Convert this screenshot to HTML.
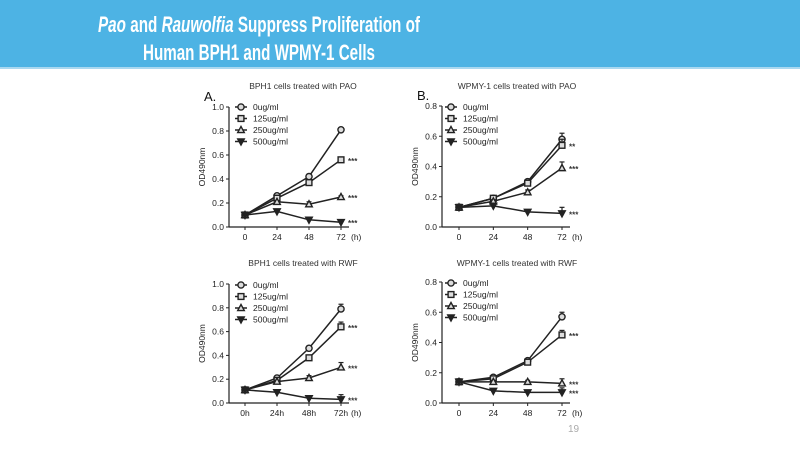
<!DOCTYPE html>
<html><head><meta charset="utf-8"><style>
body{margin:0;width:800px;height:450px;background:#fff;overflow:hidden;font-family:"Liberation Sans",sans-serif}
svg{display:block}
</style></head><body>
<svg id="s" width="800" height="450" xmlns="http://www.w3.org/2000/svg">
<rect x="0" y="0" width="800" height="67" fill="#4db3e4"/>
<rect x="0" y="67" width="800" height="2" fill="#a9d8f0"/>
<text x="259" y="32" text-anchor="middle" fill="#fff" font-size="22" font-weight="bold" textLength="322" lengthAdjust="spacingAndGlyphs"><tspan font-style="italic">Pao</tspan> and <tspan font-style="italic">Rauwolfia</tspan> Suppress Proliferation of</text>
<text x="259" y="60" text-anchor="middle" fill="#fff" font-size="22" font-weight="bold" textLength="232" lengthAdjust="spacingAndGlyphs">Human BPH1 and WPMY-1 Cells</text>
<text x="568" y="432" fill="#aaa" font-size="10">19</text>
</svg>
<script>
const series = ["0ug/ml","125ug/ml","250ug/ml","500ug/ml"];
const xLabelsA = ["0","24","48","72"];
const xLabelsC = ["0h","24h","48h","72h"];
const aVals0=[0.10,0.26,0.42,0.81], aVals125=[0.10,0.24,0.37,0.56], aVals250=[0.10,0.21,0.19,0.25], aVals500=[0.10,0.13,0.06,0.04];
const bVals0=[0.13,0.19,0.30,0.58], bVals125=[0.13,0.19,0.29,0.54], bVals250=[0.13,0.17,0.23,0.39], bVals500=[0.13,0.14,0.10,0.09];
const cVals0=[0.11,0.21,0.46,0.79], cVals125=[0.11,0.19,0.38,0.64], cVals250=[0.11,0.18,0.21,0.30], cVals500=[0.11,0.09,0.04,0.03];
const dVals0=[0.14,0.17,0.28,0.57], dVals125=[0.14,0.16,0.27,0.45], dVals250=[0.14,0.14,0.14,0.13], dVals500=[0.14,0.08,0.07,0.07];
const aErr=[0.005,0.01,0.02,0.01], bErr=[0.01,0.01,0.015,0.04], cErr=[0.01,0.01,0.02,0.04], dErr=[0.01,0.01,0.01,0.03];
const yTicksA=[0,0.2,0.4,0.6,0.8,1.0], yTicksB=[0,0.2,0.4,0.6,0.8];
const starsA=["","***","***","***"], starsB=["","**","***","***"], starsC=["","***","***","***"], starsD=["","***","***","***"];

const NS="http://www.w3.org/2000/svg", S=document.getElementById('s');
function mk(tag,attrs,parent){const e=document.createElementNS(NS,tag);for(const k in attrs)e.setAttribute(k,attrs[k]);(parent||S).appendChild(e);return e;}

function panel(o){
  const g=mk('g',{});
  
  
  const xs=i=>o.x0+(o.x3-o.x0)*i/3;
  const ys=v=>o.yb-(o.yb-o.yt)*v/o.ymax;
  const t=mk('text',{x:o.tx,y:o.ty,'text-anchor':'middle','font-size':8.5,fill:'#333'},g);t.textContent=o.title;
  
  if(o.letter){const l=mk('text',{x:o.lx,y:o.ly,'font-size':13,fill:'#111'},g);l.textContent=o.letter;
    }
  const ya=mk('line',{x1:o.ax,y1:o.yt,x2:o.ax,y2:o.yb,stroke:'#222','stroke-width':1.2},g);
  
  const xa=mk('line',{x1:o.ax,y1:o.yb,x2:o.x3+8,y2:o.yb,stroke:'#222','stroke-width':1.2},g);
  
  o.yticks.forEach(v=>{const y=ys(v);mk('line',{x1:o.ax-3,y1:y,x2:o.ax,y2:y,stroke:'#222'},g);
    const tl=mk('text',{x:o.ax-5,y:y+3,'text-anchor':'end','font-size':8.5,fill:'#222'},g);tl.textContent=v.toFixed(1);
    });
  o.xlabels.forEach((lb,i)=>{const x=xs(i);mk('line',{x1:x,y1:o.yb,x2:x,y2:o.yb+3,stroke:'#222'},g);
    const tl=mk('text',{x:x,y:o.yb+13,'text-anchor':'middle','font-size':8.5,fill:'#222'},g);tl.textContent=lb;
    });
  const h=mk('text',{x:o.x3+10,y:o.yb+13,'font-size':8.5,fill:'#222'},g);h.textContent='(h)';
  
  const yl=mk('text',{x:0,y:0,'text-anchor':'middle','font-size':8.5,fill:'#222',transform:`translate(${o.ax-24},${(o.yt+o.yb)/2}) rotate(-90)`},g);yl.textContent='OD490nm';
  
  o.vals.forEach((arr,si)=>{
    const pts=arr.map((v,i)=>xs(i)+','+ys(v)).join(' ');
    const pl=mk('polyline',{points:pts,fill:'none',stroke:'#222','stroke-width':1.5},g);
    
    arr.forEach((v,i)=>{const x=xs(i),y=ys(v);
      const e=o.err[i], y1=ys(v+e);
      mk('line',{x1:x,y1:y1,x2:x,y2:y,stroke:'#222','stroke-width':1.2},g);mk('line',{x1:x-2.5,y1:y1,x2:x+2.5,y2:y1,stroke:'#222','stroke-width':1.2},g);
      marker(g,si,x,y);
    });
    if(o.stars[si]){const st=mk('text',{x:xs(3)+7,y:ys(arr[3])+4,'font-size':8,'font-weight':'bold',fill:'#333'},g);st.textContent=o.stars[si];
      }
  });
  series.forEach((s,si)=>{const y=o.legY+si*11.5;
    mk('line',{x1:o.legX,y1:y,x2:o.legX+12,y2:y,stroke:'#222','stroke-width':1.5},g);marker(g,si,o.legX+6,y);
    const tx=mk('text',{x:o.legX+18,y:y+3,'font-size':8.5,fill:'#222'},g);tx.textContent=s;
    });
}
function marker(g,si,x,y){
  const a={fill:si==3?'#222':'#ddd',stroke:'#222','stroke-width':1.4};
  if(si==0)mk('circle',Object.assign({cx:x,cy:y,r:3.1},a),g);
  else if(si==1)mk('rect',Object.assign({x:x-2.9,y:y-2.9,width:5.8,height:5.8},a),g);
  else if(si==2)mk('polygon',Object.assign({points:`${x},${y-3.5} ${x-3.3},${y+2.6} ${x+3.3},${y+2.6}`},a),g);
  else mk('polygon',Object.assign({points:`${x},${y+3.5} ${x-3.3},${y-2.6} ${x+3.3},${y-2.6}`},a),g);
}
panel({name:'chart-bph1-pao',title:'BPH1 cells treated with PAO',tx:303,ty:89,letter:'A.',lx:204,ly:101,ax:229,yt:107,yb:227,ymax:1.0,yticks:yTicksA,x0:245,x3:341,xlabels:xLabelsA,vals:[aVals0,aVals125,aVals250,aVals500],err:aErr,stars:starsA,legX:235,legY:107});
panel({name:'chart-wpmy1-pao',title:'WPMY-1 cells treated with PAO',tx:517,ty:89,letter:'B.',lx:417,ly:100,ax:442,yt:106,yb:227,ymax:0.8,yticks:yTicksB,x0:459,x3:562,xlabels:xLabelsA,vals:[bVals0,bVals125,bVals250,bVals500],err:bErr,stars:starsB,legX:445,legY:107});
panel({name:'chart-bph1-rwf',title:'BPH1 cells treated with RWF',tx:303,ty:266,ax:229,yt:284,yb:403,ymax:1.0,yticks:yTicksA,x0:245,x3:341,xlabels:xLabelsC,vals:[cVals0,cVals125,cVals250,cVals500],err:cErr,stars:starsC,legX:235,legY:285});
panel({name:'chart-wpmy1-rwf',title:'WPMY-1 cells treated with RWF',tx:517,ty:266,ax:442,yt:282,yb:403,ymax:0.8,yticks:yTicksB,x0:459,x3:562,xlabels:xLabelsA,vals:[dVals0,dVals125,dVals250,dVals500],err:dErr,stars:starsD,legX:445,legY:283});
</script>
</body></html>
